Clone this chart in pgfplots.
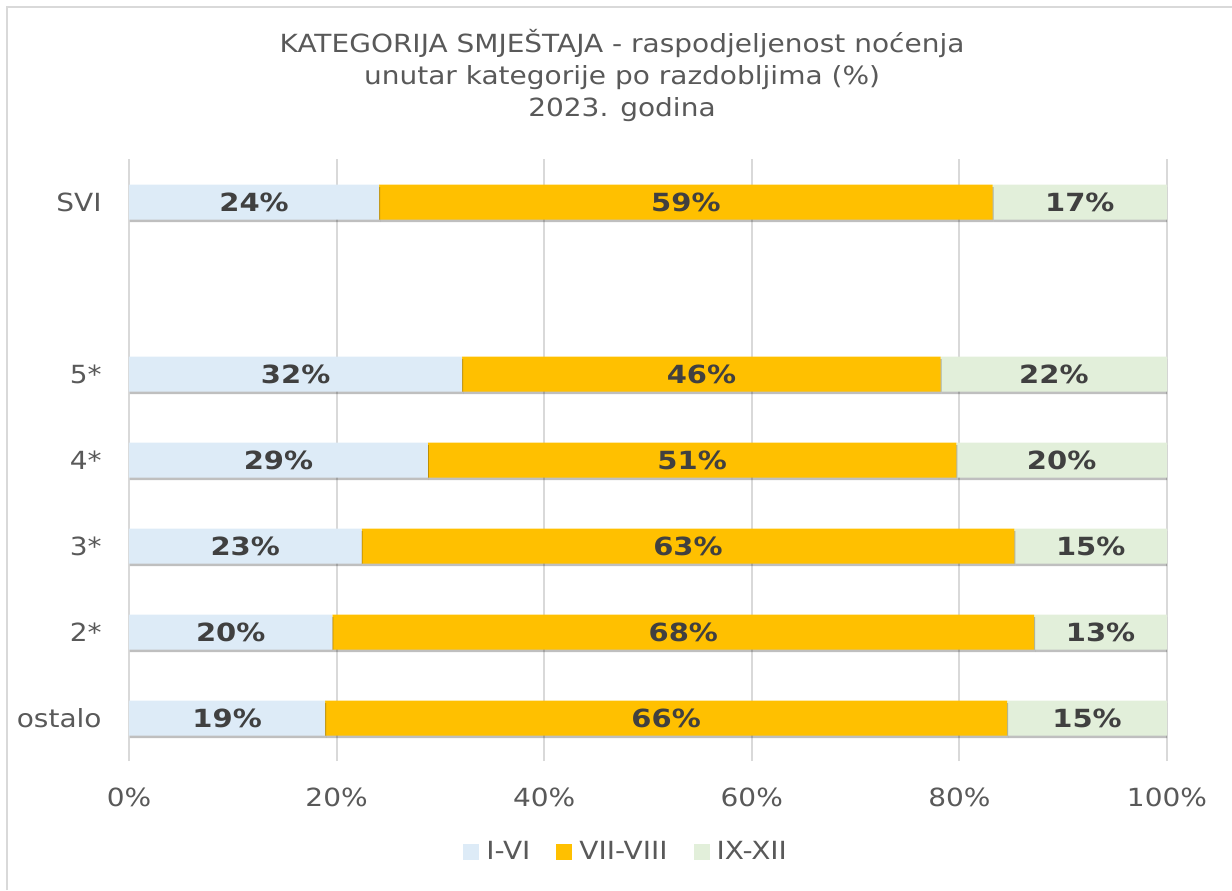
\documentclass[border=0pt]{standalone}
\usepackage{fontspec}
\setmainfont{DejaVu Sans}[FakeStretch=1.12, BoldFeatures={FakeStretch=1.16}]
\usepackage{pgfplots}
\usepackage{pgfplotstable}
\pgfplotsset{compat=1.18}
\usetikzlibrary{shadows}

\definecolor{txt}{HTML}{595959}
\definecolor{lab}{HTML}{404040}
\definecolor{gridc}{HTML}{D9D9D9}
\definecolor{c1}{HTML}{DDEBF7}
\definecolor{c2}{HTML}{FFC000}
\definecolor{c3}{HTML}{E2EFDA}

% y = category position, a/b/c = shares (%), la/lb/lc = printed labels
\pgfplotstableread{
y a    b    c    la lb lc
6 24.1 59.1 16.8 24 59 17
4 32.1 46.1 21.8 32 46 22
3 28.8 50.9 20.3 29 51 20
2 22.4 62.9 14.7 23 63 15
1 19.6 67.6 12.8 20 68 13
0 18.9 65.7 15.4 19 66 15
}\data

\newcommand{\fs}{\fontsize{12.5}{15}\selectfont}
\tikzset{barshadow/.style={drop shadow={shadow xshift=0.5pt, shadow yshift=-1.25pt, opacity=0.25, fill=black}}}

\begin{document}
\begin{tikzpicture}
\useasboundingbox (0,0) rectangle (616pt,-445pt);
\draw[gridc, line width=1pt] (3.25pt,-445pt) -- (3.25pt,-3.25pt) -- (616pt,-3.25pt);

\node[anchor=base, text=txt, font=\fs] at (311pt,-26pt) {KATEGORIJA SMJEŠTAJA - raspodjeljenost noćenja};
\node[anchor=base, text=txt, font=\fs] at (311pt,-42pt) {unutar kategorije po razdobljima (\%)};
\node[anchor=base, text=txt, font=\fs] at (311pt,-58pt) {2023. godina};

\begin{axis}[
    at={(64.5pt,-380.5pt)}, anchor=south west,
    scale only axis, width=519pt, height=301pt,
    xbar stacked, bar width=17.5pt,
    xmin=0, xmax=100, ymin=-0.5, ymax=6.5,
    axis line style={draw=none},
    xmajorgrids, grid style={draw=gridc, line width=1pt},
    major tick length=0pt,
    xtick={0,20,40,60,80,100},
    xticklabels={0\%,20\%,40\%,60\%,80\%,100\%},
    ytick={0,1,2,3,4,6},
    yticklabels={ostalo,2*,3*,4*,5*,SVI},
    xticklabel style={anchor=base, yshift=-22.5pt, inner sep=0pt, font=\fs, text=txt},
    yticklabel style={anchor=base east, xshift=-13.5pt, yshift=-4.5pt, inner sep=0pt, font=\fs, text=txt},
    point meta=explicit symbolic,
    nodes near coords={\pgfplotspointmeta\%},
    every node near coord/.append style={font=\fs\bfseries, text=lab},
    legend columns=3,
    legend style={at={(0.478,-0.151)}, anchor=center, draw=none, fill=none,
        font=\fs, text=txt, nodes={inner sep=0pt},
        /tikz/every odd column/.append style={column sep=3.5pt},
        /tikz/every even column/.append style={column sep=13pt}},
    legend image code/.code={\fill[#1] (0pt,-4pt) rectangle (8pt,4pt);},
]
\addlegendimage{fill=c1, draw=none}
\addlegendentry{I-VI}
\addlegendimage{fill=c2, draw=none}
\addlegendentry{VII-VIII}
\addlegendimage{fill=c3, draw=none}
\addlegendentry{IX-XII}
\addplot[fill=c1, draw=none, barshadow, forget plot] table[x=a, y=y, meta=la] {\data};
\addplot[fill=c2, draw=none, barshadow, forget plot] table[x=b, y=y, meta=lb] {\data};
\addplot[fill=c3, draw=none, barshadow, forget plot] table[x=c, y=y, meta=lc] {\data};
\end{axis}
\end{tikzpicture}
\end{document}
